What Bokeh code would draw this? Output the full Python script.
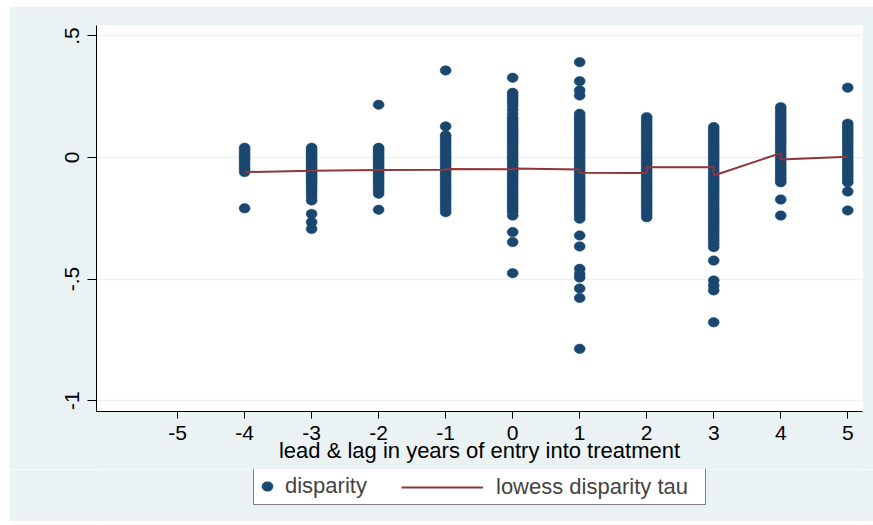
from bokeh.plotting import figure
from bokeh.models import ColumnDataSource, FixedTicker, Legend, LegendItem, Range1d
from bokeh.layouts import column
from bokeh.embed import file_html
from bokeh.resources import INLINE

# ---- data ----
tau_values = [-4, -3, -2, -1, 0, 1, 2, 3, 4, 5]

disp_m4 = [0.040, 0.028, 0.015, 0.003, -0.008, -0.020, -0.033, -0.046, -0.060, -0.209]
disp_m3 = [0.040, 0.030, 0.020, 0.010, 0.000, -0.010, -0.020, -0.030, -0.040, -0.050,
           -0.060, -0.070, -0.080, -0.090, -0.100, -0.110, -0.122, -0.135, -0.148,
           -0.162, -0.177, -0.232, -0.266, -0.294]
disp_m2 = [0.217, 0.040, 0.030, 0.020, 0.010, 0.000, -0.010, -0.020, -0.030, -0.040,
           -0.050, -0.060, -0.070, -0.080, -0.090, -0.100, -0.112, -0.124, -0.136,
           -0.149, -0.215]
disp_m1 = [0.358, 0.128, 0.091, 0.080, 0.068, 0.056, 0.044, 0.032, 0.020, 0.008,
           -0.004, -0.016, -0.028, -0.040, -0.052, -0.064, -0.076, -0.088, -0.100,
           -0.112, -0.124, -0.136, -0.148, -0.160, -0.172, -0.185, -0.198, -0.211, -0.225]
disp_0 = [0.328, 0.266, 0.254, 0.241, 0.228, 0.214, 0.197, 0.180, 0.163, 0.151, 0.139,
          0.127, 0.115, 0.103, 0.091, 0.079, 0.067, 0.055, 0.043, 0.031, 0.019, 0.007,
          -0.005, -0.017, -0.029, -0.041, -0.053, -0.065, -0.077, -0.089, -0.101,
          -0.113, -0.125, -0.137, -0.149, -0.161, -0.173, -0.185, -0.197, -0.209,
          -0.222, -0.239, -0.307, -0.348, -0.476]
disp_1 = [0.392, 0.314, 0.276, 0.255, 0.180, 0.168, 0.156, 0.144, 0.132, 0.120, 0.108,
          0.096, 0.084, 0.072, 0.060, 0.048, 0.036, 0.024, 0.012, 0.000, -0.012,
          -0.024, -0.036, -0.048, -0.060, -0.072, -0.084, -0.096, -0.108, -0.120,
          -0.132, -0.144, -0.156, -0.168, -0.180, -0.192, -0.204, -0.216, -0.228,
          -0.240, -0.252, -0.321, -0.366, -0.458, -0.479, -0.494, -0.539, -0.578, -0.787]
disp_2 = [0.166, 0.154, 0.142, 0.130, 0.118, 0.106, 0.094, 0.082, 0.070, 0.058, 0.046,
          0.034, 0.022, 0.010, -0.002, -0.014, -0.026, -0.038, -0.050, -0.062, -0.074,
          -0.086, -0.098, -0.110, -0.122, -0.134, -0.146, -0.158, -0.170, -0.182,
          -0.194, -0.206, -0.218, -0.232, -0.246]
disp_3 = [0.125, 0.113, 0.101, 0.089, 0.077, 0.065, 0.053, 0.041, 0.029, 0.017, 0.005,
          -0.007, -0.019, -0.031, -0.043, -0.055, -0.067, -0.079, -0.091, -0.103,
          -0.115, -0.127, -0.139, -0.151, -0.163, -0.175, -0.187, -0.199, -0.211,
          -0.223, -0.235, -0.247, -0.259, -0.271, -0.283, -0.295, -0.307, -0.319,
          -0.331, -0.343, -0.356, -0.369, -0.424, -0.506, -0.527, -0.547, -0.678]
disp_4 = [0.207, 0.195, 0.183, 0.171, 0.159, 0.147, 0.135, 0.123, 0.111, 0.099, 0.087,
          0.075, 0.063, 0.051, 0.039, 0.027, 0.015, 0.003, -0.009, -0.021, -0.033,
          -0.045, -0.057, -0.069, -0.081, -0.092, -0.102, -0.173, -0.239]
disp_5 = [0.287, 0.139, 0.127, 0.115, 0.103, 0.091, 0.079, 0.067, 0.055, 0.043, 0.031,
          0.019, 0.007, -0.005, -0.017, -0.029, -0.041, -0.053, -0.065, -0.077,
          -0.090, -0.102, -0.140, -0.218]

disparity_by_tau = [disp_m4, disp_m3, disp_m2, disp_m1, disp_0,
                    disp_1, disp_2, disp_3, disp_4, disp_5]

lowess_tau = [-4, -3, -2, -1, -1, 0, 0, 1, 1, 2, 2, 3, 3, 4, 4, 5]
lowess_fit = [-0.060, -0.055, -0.051, -0.050, -0.047, -0.048, -0.045, -0.049, -0.063,
              -0.064, -0.040, -0.040, -0.074, 0.018, -0.008, 0.003]

x_ticks = [-5, -4, -3, -2, -1, 0, 1, 2, 3, 4, 5]
y_ticks = [-1, -0.5, 0, 0.5]
y_tick_labels = ["-1", "-.5", "0", ".5"]

# ---- build table ----
tau_col, disp_col = [], []
for t, vals in zip(tau_values, disparity_by_tau):
    tau_col.extend([t] * len(vals))
    disp_col.extend(vals)
src = ColumnDataSource(data=dict(tau=tau_col, disp=disp_col))
low_src = ColumnDataSource(data=dict(tau=lowess_tau, fit=lowess_fit))

FONT = "Liberation Sans"
FS_TICK = "21px"
FS_TEXT = "22px"
NAVY = "#1A476F"
MAROON = "#90353B"
BG = "#EAF2F3"

p = figure(width=864, height=463,
           x_range=Range1d(-6.21, 5.22), y_range=Range1d(-1.045, 0.543),
           output_backend="svg", toolbar_location=None,
           min_border_left=87, min_border_right=11,
           min_border_top=19, min_border_bottom=58)
p.border_fill_color = BG
p.background_fill_color = "white"
p.outline_line_color = None

p.xgrid.visible = False
p.ygrid.grid_line_color = BG
p.ygrid.grid_line_width = 1.5

MARK = dict(width=11, height=9.5, width_units="screen", height_units="screen",
            fill_color=NAVY, line_color=NAVY, line_width=0.5)
LINE = dict(line_color=MAROON, line_width=2)

r_sc = p.ellipse(x="tau", y="disp", source=src, **MARK)
r_ln = p.line(x="tau", y="fit", source=low_src, **LINE)

# axes
p.xaxis.ticker = FixedTicker(ticks=x_ticks)
p.xaxis.major_label_overrides = {t: str(t) for t in x_ticks}
p.xaxis.axis_label = "lead & lag in years of entry into treatment"
p.xaxis.axis_label_text_font_style = "normal"
p.xaxis.axis_label_text_font = FONT
p.xaxis.axis_label_text_font_size = FS_TEXT
p.xaxis.axis_label_text_color = "black"
p.xaxis.axis_label_standoff = -5
p.xaxis.major_tick_out = 7
p.xaxis.major_label_standoff = 7

p.yaxis.ticker = FixedTicker(ticks=y_ticks)
p.yaxis.major_label_overrides = {t: l for t, l in zip(y_ticks, y_tick_labels)}
p.yaxis.major_label_orientation = "vertical"
p.yaxis.major_tick_out = 9
p.yaxis.major_label_standoff = 8

for ax in (p.xaxis, p.yaxis):
    ax.major_tick_in = 0
    ax.minor_tick_in = 0
    ax.minor_tick_out = 0
    ax.axis_line_color = "black"
    ax.axis_line_width = 1
    ax.major_tick_line_color = "black"
    ax.major_label_text_font = FONT
    ax.major_label_text_font_size = FS_TICK
    ax.major_label_text_color = "black"

# ---- legend strip (keys drawn from the same sources; ranges show no marks) ----
lf = figure(width=864, height=52, x_range=Range1d(100, 101), y_range=Range1d(100, 101),
            output_backend="svg", toolbar_location=None,
            x_axis_location=None, y_axis_location=None,
            min_border_left=87, min_border_right=11, min_border_top=0, min_border_bottom=0)
lf.border_fill_color = BG
lf.background_fill_color = BG
lf.outline_line_color = None
lf.grid.visible = False
k_sc = lf.ellipse(x="tau", y="disp", source=src, **MARK)
k_ln = lf.line(x="tau", y="fit", source=low_src, **LINE)

legA = Legend(items=[LegendItem(label="disparity", renderers=[k_sc])],
              location=(157, 16), glyph_width=16, glyph_height=14,
              label_standoff=10, padding=5, label_width=415, margin=0,
              border_line_color="black", border_line_width=1,
              background_fill_color="white", background_fill_alpha=1,
              label_text_font=FONT, label_text_font_size=FS_TEXT)
legB = Legend(items=[LegendItem(label="lowess disparity tau", renderers=[k_ln])],
              location=(305, 21), glyph_width=82, glyph_height=14,
              label_standoff=13, padding=5, margin=0,
              border_line_color=None, background_fill_alpha=0,
              label_text_font=FONT, label_text_font_size=FS_TEXT)
lf.add_layout(legA)
lf.add_layout(legB)

layout = column(p, lf, spacing=0, margin=(6, 0, 0, 9))

open("out.html", "w").write(file_html(layout, INLINE))
